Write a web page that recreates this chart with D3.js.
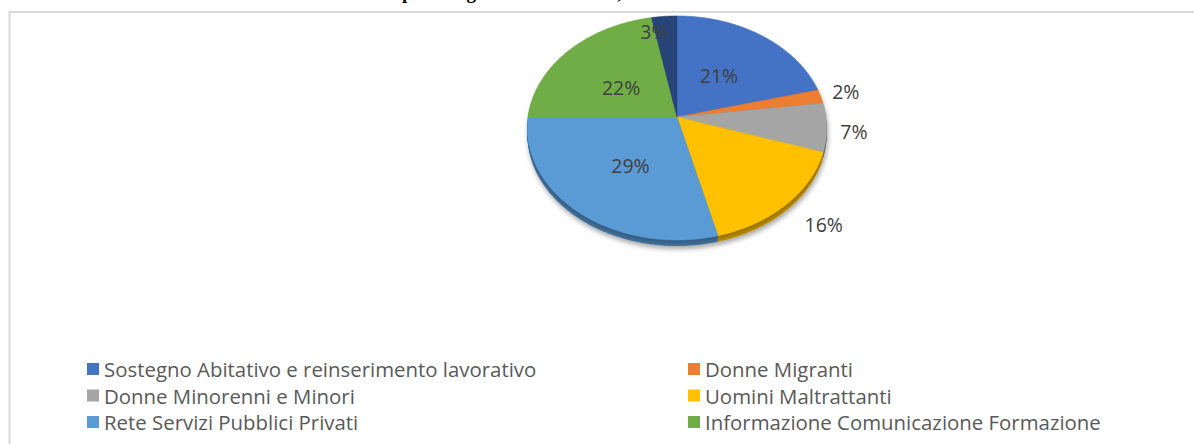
<!DOCTYPE html>
<html><head><meta charset="utf-8">
<script src="https://cdn.jsdelivr.net/npm/d3@7"></script>
<style>
html,body{margin:0;padding:0;background:#fff;overflow:hidden}
svg{display:block}
</style></head>
<body>
<svg id="c" width="1194" height="444"></svg>
<script>
// ---- data ----
const categories = [
  "Sostegno Abitativo e reinserimento lavorativo",
  "Donne Migranti",
  "Donne Minorenni e Minori",
  "Uomini Maltrattanti",
  "Rete Servizi Pubblici Privati",
  "Informazione Comunicazione Formazione",
  "Altro"
];
const values = [21, 2, 7, 16, 29, 22, 3];
const colors = ["#4472C4", "#ED7D31", "#A5A5A5", "#FFC000", "#5B9BD5", "#70AD47", "#264478"];
const legendCategories = categories.slice(0, 6);
const titleText = "Distribuzione delle risorse per categoria di intervento, anno";

// ---- layout ----
const svg = d3.select("#c");
const cx = 677, cy = 117, rx = 149, ry = 111, k = 0.098, depth = 6;

// frame
svg.append("rect").attr("x", 9.5).attr("y", 12).attr("width", 1300).attr("height", 600)
  .attr("fill", "#fff").attr("stroke", "#d9d9d9").attr("stroke-width", 2);

// title (mostly above the visible area, only descenders show)
svg.append("text").attr("x", 185).attr("y", -1.5)
  .attr("font-family", "Liberation Serif, serif").attr("font-weight", "bold")
  .attr("font-size", 19).attr("fill", "#000").text(titleText);

// perspective projection of a point on the pie disc
function proj(a, r) {
  const u = r * Math.sin(a), v = -r * Math.cos(a);
  const s = 1 / (1 - k * v);
  return [cx + rx * u * s, cy + ry * v * s];
}
const pie = d3.pie().sort(null).value(d => d)
  .startAngle(0).endAngle(2 * Math.PI);
const arcs = pie(values);
const line = d3.line();
function slicePath(d) {
  const pts = [proj(0, 0)];
  const n = Math.max(2, Math.ceil((d.endAngle - d.startAngle) / 0.01));
  for (let i = 0; i <= n; i++) {
    const a = d.startAngle + (d.endAngle - d.startAngle) * i / n;
    pts.push(proj(a, 1));
  }
  return line(pts) + "Z";
}

const defs = svg.append("defs");
const f = defs.append("filter").attr("id", "sh").attr("x", "-20%").attr("y", "-20%")
  .attr("width", "140%").attr("height", "140%");
f.append("feGaussianBlur").attr("in", "SourceAlpha").attr("stdDeviation", 2.5);
f.append("feOffset").attr("dx", 1).attr("dy", 3).attr("result", "b");
f.append("feComponentTransfer").append("feFuncA").attr("type", "linear").attr("slope", 0.35);
const fm = f.append("feMerge");
fm.append("feMergeNode");
fm.append("feMergeNode").attr("in", "SourceGraphic");

// side (thickness)
const side = svg.append("g").attr("filter", "url(#sh)");
for (let t = depth; t >= 1; t--) {
  side.append("g").attr("transform", `translate(0,${t})`)
    .selectAll("path").data(arcs).join("path")
    .attr("d", slicePath)
    .attr("fill", (d, i) => d3.color(colors[i]).darker(1.6 - t * 0.12));
}
// top face
svg.append("g").selectAll("path").data(arcs).join("path")
  .attr("d", slicePath)
  .attr("fill", (d, i) => colors[i])
  .attr("stroke", (d, i) => colors[i]).attr("stroke-width", 0.5);

// data labels
const labelR = [0.5, 1.15, 1.18, 1.24, 0.5, 0.52, 0.85];
const labelDx = [-2, 4, 0, 8, 1, 2, -12];
const labelDy = [1, -2, 2, -3, 3, 6, 1];
svg.append("g").selectAll("text").data(arcs).join("text")
  .attr("x", (d, i) => proj((d.startAngle + d.endAngle) / 2, labelR[i])[0] + labelDx[i])
  .attr("y", (d, i) => proj((d.startAngle + d.endAngle) / 2, labelR[i])[1] + labelDy[i])
  .attr("text-anchor", "middle").attr("dominant-baseline", "central")
  .attr("font-family", "Open Sans, sans-serif").attr("font-size", 19.5).attr("fill", "#404040")
  .text(d => d.value + "%");

// legend (two columns, row-major)
const colX = d3.scaleOrdinal().domain([0, 1]).range([87, 688]);
const rowY = d3.scaleLinear().domain([0, 1]).range([369, 395.5]);
const lg = svg.append("g").selectAll("g").data(legendCategories).join("g")
  .attr("transform", (d, i) => `translate(${colX(i % 2)},${rowY(Math.floor(i / 2))})`);
lg.append("rect").attr("x", 0).attr("y", -6).attr("width", 12).attr("height", 12)
  .attr("fill", (d, i) => colors[i]);
lg.append("text").attr("x", 17).attr("y", 0).attr("dominant-baseline", "central")
  .attr("font-family", "Open Sans, sans-serif").attr("font-size", 20.4).attr("fill", "#595959")
  .text(d => d);
</script>
</body></html>
